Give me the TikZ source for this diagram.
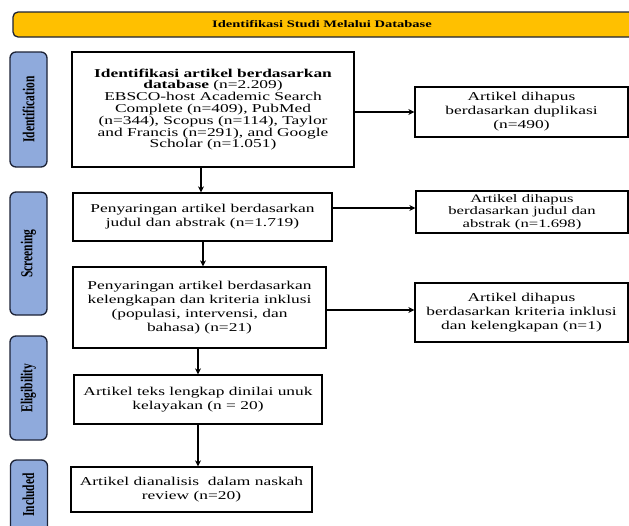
\documentclass[tikz,border=0pt]{standalone}
\usepackage{fontspec}
\usepackage{graphicx}
\setmainfont{Liberation Serif}[FakeStretch=1.45]
\newfontfamily\sidefont{Liberation Serif}[FakeStretch=1.0]
\usetikzlibrary{arrows.meta}
\definecolor{bannerfill}{HTML}{FFC000}
\definecolor{sidefill}{HTML}{8FAADC}
\definecolor{sideline}{HTML}{1C2235}
\tikzset{
  boxnode/.style={draw=black, line width=1.3pt, inner sep=0pt, align=center,
    font=\fontsize{12}{14}\selectfont},
  sidebox/.style={draw=sideline, fill=sidefill, line width=1.3pt, rounded corners=6pt,
    inner sep=0pt, minimum width=37pt},
  sidelabel/.style={rotate=90, inner sep=0pt, font=\sidefont\bfseries\fontsize{11.5}{12}\selectfont},
  arr/.style={line width=1.3pt, -{Stealth[length=6pt,width=6pt]}},
}
\newcommand{\sidetext}[1]{\scalebox{1}[1.45]{#1}}
\begin{document}
\begin{tikzpicture}[x=1pt,y=-1pt]
\useasboundingbox (0,0) rectangle (629,525);
\clip (0,0) rectangle (629,525);
% banner
\draw[line width=1.3pt, draw=sideline, fill=bannerfill, rounded corners=5pt] (13,12) rectangle (660,37);
\node[font=\bfseries\fontsize{10}{12}\selectfont] (banner) at (322,24.5) {Identifikasi Studi Melalui Database};
% side labels
\node[sidebox, minimum height=115pt] (sid) at (28.5,109.5) {};
\node[sidelabel] at (sid.center) {\sidetext{Identification}};
\node[sidebox, minimum height=123pt] (sscr) at (28.5,253.5) {};
\node[sidelabel] at (sscr.center) {\sidetext{Screening}};
\node[sidebox, minimum height=104pt] (sel) at (28.5,388) {};
\node[sidelabel] at (sel.center) {\sidetext{Eligibility}};
\node[sidebox, minimum height=72pt] (sinc) at (29,496) {};
\node[sidelabel] at (28.5,495) {\sidetext{Included}};
% main boxes
\node[boxnode, minimum width=282pt, minimum height=115pt, font=\fontsize{12}{11.8}\selectfont] (b1) at (213,109.5)
  {\textbf{Identifikasi artikel berdasarkan}\\ \textbf{database} (n=2.209)\\ EBSCO-host Academic Search\\ Complete (n=409), PubMed\\ (n=344), Scopus (n=114), Taylor\\ and Francis (n=291), and Google\\ Scholar (n=1.051)};
\node[boxnode, minimum width=259pt, minimum height=48pt] (b2) at (202.5,217)
  {Penyaringan artikel berdasarkan\\ judul dan abstrak (n=1.719)};
\node[boxnode, minimum width=253pt, minimum height=81pt] (b3) at (199.5,307.5)
  {Penyaringan artikel berdasarkan\\ kelengkapan dan kriteria inklusi\\ (populasi, intervensi, dan\\ bahasa) (n=21)};
\node[boxnode, minimum width=248pt, minimum height=49pt] (b4) at (198,399.5)
  {Artikel teks lengkap dinilai unuk\\ kelayakan (n = 20)};
\node[boxnode, minimum width=241pt, minimum height=45pt] (b5) at (191.5,489.5)
  {Artikel dianalisis\ \ dalam naskah\\ review (n=20)};
% right boxes
\node[boxnode, minimum width=213pt, minimum height=50pt] (r1) at (521.5,112)
  {Artikel dihapus\\ berdasarkan duplikasi\\ (n=490)};
\node[boxnode, minimum width=212pt, minimum height=42pt, font=\fontsize{11.5}{12.6}\selectfont] (r2) at (522,212)
  {Artikel dihapus\\ berdasarkan judul dan\\ abstrak (n=1.698)};
\node[boxnode, minimum width=213pt, minimum height=59pt] (r3) at (521.5,312.5)
  {Artikel dihapus\\ berdasarkan kriteria inklusi\\ dan kelengkapan (n=1)};
% arrow guide coordinates
\coordinate (ya1) at (0,112);
\coordinate (ya2) at (0,208);
\coordinate (ya3) at (0,310);
\coordinate (xv1) at (201,0);
\coordinate (xv2) at (203,0);
\coordinate (xv3) at (198,0);
% arrows
\draw[arr] (b1.east |- ya1) -- (r1.west |- ya1);
\draw[arr] (b2.east |- ya2) -- (r2.west |- ya2);
\draw[arr] (b3.east |- ya3) -- (r3.west |- ya3);
\draw[arr] (b1.south -| xv1) -- (b2.north -| xv1);
\draw[arr] (b2.south -| xv2) -- (b3.north -| xv2);
\draw[arr] (b3.south -| xv3) -- (b4.north -| xv3);
\draw[arr] (b4.south -| xv3) -- (b5.north -| xv3);
\end{tikzpicture}
\end{document}
